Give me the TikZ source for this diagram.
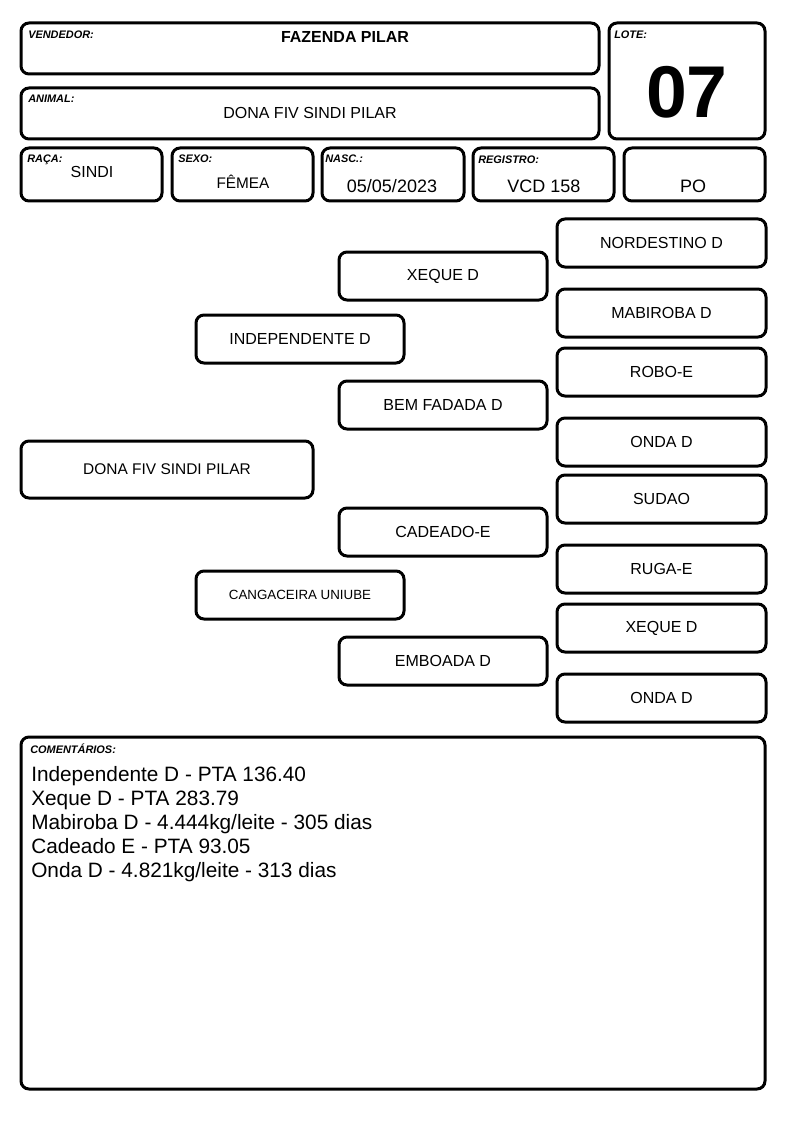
\documentclass[tikz,border=0pt]{standalone}
\usepackage{fontspec}
\setmainfont{Liberation Sans}
\begin{document}
\begin{tikzpicture}[x=0.75pt,y=-0.75pt,
  box/.style={draw, line width=2.25pt, rounded corners=6pt, inner sep=0pt, fill=white},
  lbl/.style={font=\fontsize{8.2pt}{9pt}\selectfont\bfseries\itshape, anchor=base west, inner sep=0pt},
  val/.style={font=\fontsize{12pt}{14pt}\selectfont, anchor=base, inner sep=0pt},
  bigval/.style={font=\fontsize{13.5pt}{16pt}\selectfont, anchor=base, inner sep=0pt},
  com/.style={font=\fontsize{15.6pt}{18pt}\selectfont, anchor=base west, inner sep=0pt}]
\newcommand\bx[6]{\node[box, minimum width={(#4-#2)*0.75pt}, minimum height={(#5-#3)*0.75pt}] (#1) at ({(#2+#4)/2},{(#3+#5)/2}) {#6};}
\useasboundingbox[fill=white] (0,0) rectangle (794,1123);
% header
\bx{vend}{21}{23}{599}{74}{}
\bx{lote}{609}{23}{765}{139}{}
\bx{animal}{21}{88}{599}{139}{}
\bx{raca}{21}{148}{162}{201}{}
\bx{sexo}{172}{148}{313}{201}{}
\bx{nasc}{322}{148}{464}{201}{}
\bx{reg}{473}{148}{614}{201}{}
\bx{po}{624}{148}{765}{201}{}
\node[lbl] (lvend) at (28,39) {VENDEDOR:};
\node[val, font=\fontsize{12pt}{14pt}\selectfont\bfseries] (tvend) at (345,43) {FAZENDA PILAR};
\node[lbl] (llote) at (614,39) {LOTE:};
\node[anchor=base, inner sep=0pt, font=\fontsize{55pt}{60pt}\selectfont\bfseries] (tlote) at (687,118) {07};
\node[lbl] (lanimal) at (28,103) {ANIMAL:};
\node[val] (tanimal) at (310,119) {DONA FIV SINDI PILAR};
\node[lbl] (lraca) at (27,163) {RAÇA:};
\node[val] (traca) at (92,178) {SINDI};
\node[lbl] (lsexo) at (178,163) {SEXO:};
\node[val, font=\fontsize{11.5pt}{14pt}\selectfont] (tsexo) at (243,189) {FÊMEA};
\node[lbl] (lnasc) at (325,163) {NASC.:};
\node[bigval] (tnasc) at (392,193) {05/05/2023};
\node[lbl] (lreg) at (478,164) {REGISTRO:};
\node[bigval] (treg) at (544,193) {VCD 158};
\node[bigval] (tpo) at (693,193) {PO};
% pedigree
\bx{main}{21}{441}{313}{498}{\fontsize{11.6pt}{14pt}\selectfont DONA FIV SINDI PILAR}
\bx{indep}{196}{315}{404}{363}{\fontsize{12pt}{14pt}\selectfont INDEPENDENTE D}
\bx{cang}{196}{571}{404}{619}{\fontsize{10pt}{12pt}\selectfont CANGACEIRA UNIUBE}
\bx{xeq}{339}{252}{547}{300}{\fontsize{12pt}{14pt}\selectfont XEQUE D}
\bx{bem}{339}{381}{547}{429}{\fontsize{12pt}{14pt}\selectfont BEM FADADA D}
\bx{cad}{339}{508}{547}{556}{\fontsize{12pt}{14pt}\selectfont CADEADO-E}
\bx{emb}{339}{637}{547}{685}{\fontsize{12pt}{14pt}\selectfont EMBOADA D}
\bx{r1}{557}{219}{766}{267}{\fontsize{12pt}{14pt}\selectfont NORDESTINO D}
\bx{r2}{557}{289}{766}{337}{\fontsize{12pt}{14pt}\selectfont MABIROBA D}
\bx{r3}{557}{348}{766}{396}{\fontsize{12pt}{14pt}\selectfont ROBO-E}
\bx{r4}{557}{418}{766}{466}{\fontsize{12pt}{14pt}\selectfont ONDA D}
\bx{r5}{557}{475}{766}{523}{\fontsize{12pt}{14pt}\selectfont SUDAO}
\bx{r6}{557}{545}{766}{593}{\fontsize{12pt}{14pt}\selectfont RUGA-E}
\bx{r7}{557}{604}{766}{652}{\fontsize{12pt}{14pt}\selectfont XEQUE D}
\bx{r8}{557}{674}{766}{722}{\fontsize{12pt}{14pt}\selectfont ONDA D}
% comments
\bx{combox}{21}{737}{765}{1089}{}
\node[lbl] (lcom) at (30,753) {COMENTÁRIOS:};
\node[com] (c1) at (31,781) {Independente D - PTA 136.40};
\node[com] (c2) at (31,805) {Xeque D - PTA 283.79};
\node[com] (c3) at (31,829) {Mabiroba D - 4.444kg/leite - 305 dias};
\node[com] (c4) at (31,853) {Cadeado E - PTA 93.05};
\node[com] (c5) at (31,877) {Onda D - 4.821kg/leite - 313 dias};
\end{tikzpicture}
\end{document}
